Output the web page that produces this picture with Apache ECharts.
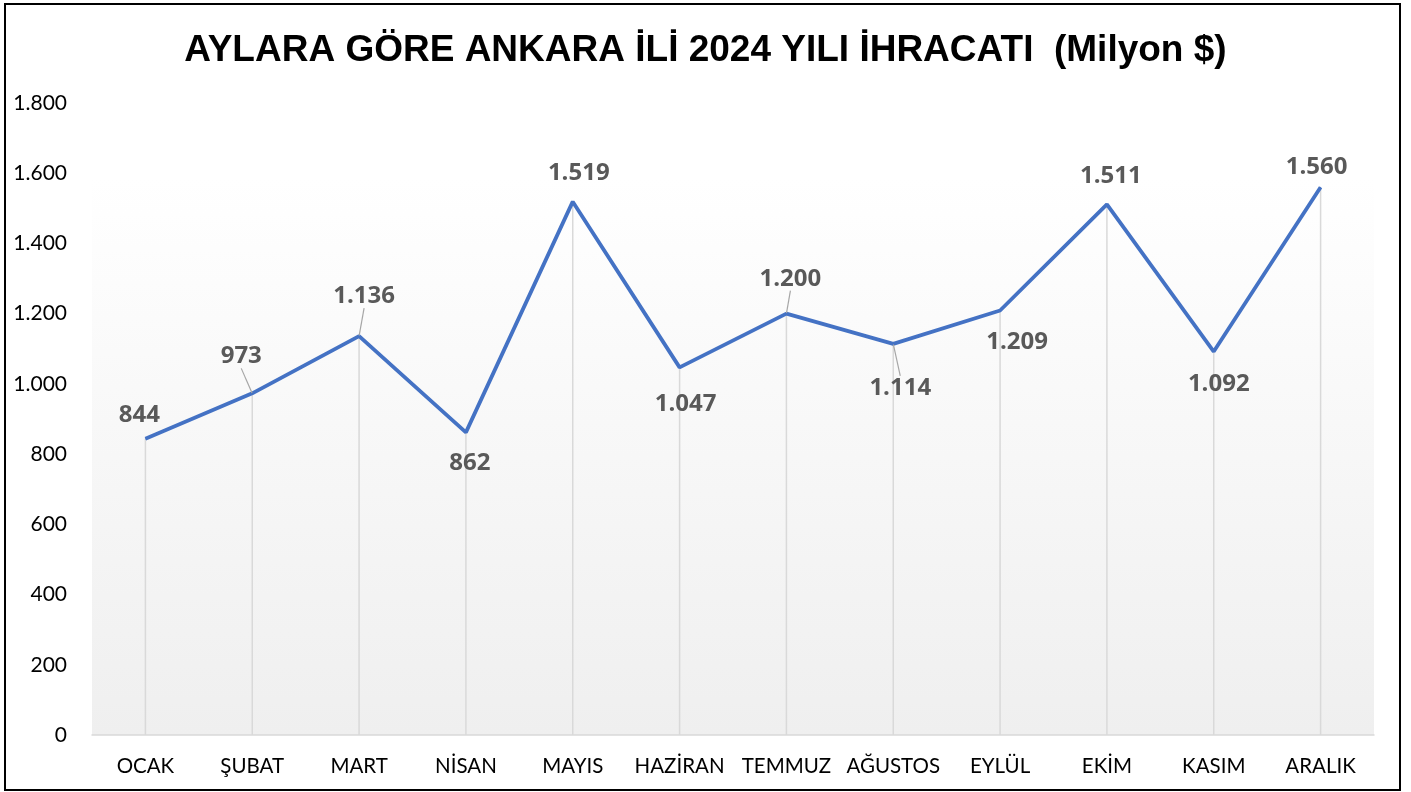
<!DOCTYPE html>
<html>
<head>
<meta charset="utf-8">
<script src="https://cdn.jsdelivr.net/npm/echarts@6/dist/echarts.min.js"></script>
<style>
  html, body { margin: 0; padding: 0; background: #fff; }
  #frame {
    position: absolute;
    left: 4px;
    top: 3px;
    width: 1393px;
    height: 784px;
    border: 2px solid #000;
  }
  #chart { position: absolute; left: 0; top: 0; width: 1411px; height: 792px; }
</style>
</head>
<body>
<div id="chart"></div>
<div id="frame"></div>
<script>
// months
const months = ['OCAK', 'ŞUBAT', 'MART', 'NİSAN', 'MAYIS', 'HAZİRAN', 'TEMMUZ', 'AĞUSTOS', 'EYLÜL', 'EKİM', 'KASIM', 'ARALIK']
// export value, million $
const exportValues = [844, 973, 1136, 862, 1519, 1047, 1200, 1114, 1209, 1511, 1092, 1560]
const yTicks = [0, 200, 400, 600, 800, 1000, 1200, 1400, 1600, 1800]

// where each value label sits relative to its point (px)
const labelShift = [[-6, -24], [-11, -37], [5, -40], [4, 31], [6, -29], [6, 37], [4, -35], [7, 44], [17, 32], [4, -28], [5, 33], [-4, -20]]
const withLeader = [false, true, true, false, false, false, true, true, false, false, false, false]

function fmt(v) {
  return String(v).replace(/\B(?=(\d{3})+(?!\d))/g, '.')
}

const chart = echarts.init(document.getElementById('chart'))

const option = {
  backgroundColor: '#fff',
  animation: false,
  title: {
    text: 'AYLARA GÖRE ANKARA İLİ 2024 YILI İHRACATI  (Milyon $)',
    left: 'center',
    top: 27,
    textStyle: {
      fontFamily: "'Liberation Sans', Arial, sans-serif",
      fontWeight: 'bold',
      fontSize: 37,
      color: '#000'
    }
  },
  grid: {
    left: 92,
    right: 37,
    top: 103,
    bottom: 57,
    show: true,
    borderWidth: 0,
    backgroundColor: {
      type: 'linear',
      x: 0, y: 0, x2: 0, y2: 1,
      colorStops: [
        { offset: 0, color: '#ffffff' },
        { offset: 0.12, color: '#ffffff' },
        { offset: 1, color: '#efefef' }
      ]
    }
  },
  xAxis: {
    type: 'category',
    data: months,
    boundaryGap: true,
    axisLine: { lineStyle: { color: '#d9d9d9', width: 1.5 } },
    axisTick: { show: false },
    axisLabel: {
      interval: 0,
      margin: 21,
      fontFamily: 'Lato, sans-serif',
      fontSize: 20.5,
      color: '#000'
    }
  },
  yAxis: {
    type: 'value',
    min: yTicks[0],
    max: yTicks[yTicks.length - 1],
    interval: yTicks[1] - yTicks[0],
    axisLine: { show: false },
    axisTick: { show: false },
    splitLine: { show: false },
    axisLabel: {
      margin: 25,
      fontFamily: 'Lato, sans-serif',
      fontSize: 21,
      color: '#000',
      formatter: v => fmt(v)
    }
  },
  series: [
    {
      // drop lines under each point
      type: 'bar',
      data: exportValues,
      barWidth: 1.5,
      silent: true,
      itemStyle: { color: '#d9d9d9' },
      z: 1
    },
    {
      type: 'line',
      data: exportValues.map((v, i) => ({
        value: v,
        labelLine: { show: withLeader[i] }
      })),
      symbol: 'circle',
      symbolSize: 1,
      itemStyle: { color: '#4472c4' },
      lineStyle: { color: '#4472c4', width: 3.8 },
      z: 3,
      label: {
        show: true,
        position: 'top',
        fontFamily: "'Open Sans', sans-serif",
        fontWeight: 'bold',
        fontSize: 24,
        color: '#595959',
        formatter: p => fmt(p.value)
      },
      labelLine: {
        show: false,
        lineStyle: { color: '#a6a6a6', width: 1.2 }
      },
      labelLayout: params => {
        const r = params.rect
        const s = labelShift[params.dataIndex]
        return {
          x: r.x + r.width / 2 + s[0],
          y: r.y + r.height / 2 + s[1],
          align: 'center',
          verticalAlign: 'middle'
        }
      }
    }
  ]
}

chart.setOption(option)
</script>
</body>
</html>
